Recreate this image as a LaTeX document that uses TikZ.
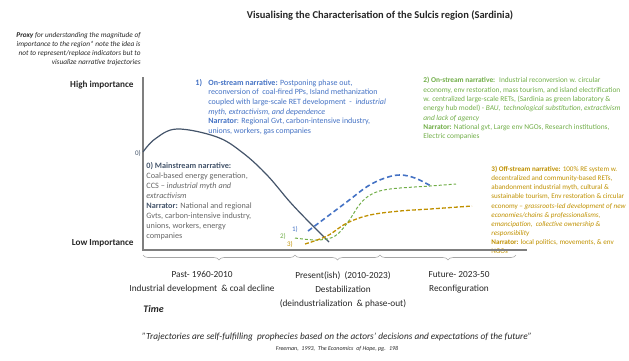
\documentclass[tikz,border=0pt]{standalone}
\usepackage{fontspec}
\setmainfont{Carlito}
\usepackage{tikz}
\usetikzlibrary{positioning,decorations.pathreplacing}
\definecolor{catSlate}{HTML}{44546A}
\definecolor{catBlue}{HTML}{4472C4}
\definecolor{catGreen}{HTML}{70AD47}
\definecolor{catGold}{HTML}{BF9000}
\definecolor{catGrey}{HTML}{7F7F7F}
\definecolor{catBody}{HTML}{666666}
\colorlet{colMainstream}{catSlate}
\colorlet{colStreamOne}{catBlue}
\colorlet{colStreamTwo}{catGreen}
\colorlet{colStreamThree}{catGold}
\colorlet{colAxis}{catGrey}
\colorlet{colLabel}{black!85}

\tikzset{
  narrative/.style={anchor=north west, inner sep=0pt, align=left, font=\fontsize{8.2}{10}\selectfont},
  period/.style={anchor=north, inner sep=0pt, align=center, font=\fontsize{9.3}{14}\selectfont, text=colLabel},
  tagtext/.style={inner sep=0pt, font=\fontsize{7}{8}\selectfont},
  axislabel/.style={anchor=east, inner sep=0pt, font=\fontsize{9.2}{11}\selectfont\bfseries, text=colLabel},
  bracegap/.style={decorate, decoration={brace, mirror, amplitude=5pt}, colAxis!70, line width=0.6pt}
}

\begin{document}
\begin{tikzpicture}[x=1pt, y=-1pt, thick]
        \useasboundingbox (0,0) rectangle (629,360);

        % Title and note
        \node[font=\fontsize{10.5}{12}\selectfont\bfseries, text=colLabel] (title) at (380,15) {Visualising the Characterisation of the Sulcis region (Sardinia)};
        \node[anchor=north east, inner sep=0pt, align=right, font=\fontsize{7.3}{9}\selectfont\itshape, text=colLabel] (proxy) at (141,32) {\textbf{Proxy} for understanding the magnitude of\\importance to the region* note the idea is\\not to represent/replace indicators but to\\visualize narrative trajectories};

        % Narratives
        \node[narrative, text=catBody] (txtZero) at (146,162) {\textcolor{colMainstream}{\textbf{0) Mainstream narrative:}}\\Coal-based energy generation,\\CCS -- \textit{industrial myth and}\\\textit{extractivism}\\\textcolor{colMainstream}{\textbf{Narrator:}} National and regional\\Gvts, carbon-intensive industry,\\unions, workers, energy\\companies};
        \node[narrative, text=colStreamOne] (tagOneTxt) at (195,79) {\textbf{1)}};
        \node[narrative, text=colStreamOne, font=\fontsize{8}{9.7}\selectfont] (txtOne) at (208,79) {\textbf{On-stream narrative:} Postponing phase out,\\reconversion of \ coal-fired PPs, Island methanization\\coupled with large-scale RET development \ - \ \textit{industrial}\\\textit{myth, extractivism, and dependence}\\\textbf{Narrator}: Regional Gvt, carbon-intensive industry,\\unions, workers, gas companies};
        \node[narrative, text=colStreamTwo, font=\fontsize{7.4}{9.3}\selectfont] (txtTwo) at (423,77) {\textbf{2) On-stream narrative:} \ Industrial reconversion w. circular\\economy, env restoration, mass tourism, and island electrification\\w. centralized large-scale RETs, (Sardinia as green laboratory \&\\energy hub model) - \textit{BAU, \ technological substitution, extractivism}\\\textit{and lack of agency}\\\textbf{Narrator:} National gvt, Large env NGOs, Research institutions,\\Electric companies};
        \node[narrative, text=colStreamThree, font=\fontsize{7.1}{9.1}\selectfont] (txtThree) at (491,166) {\textbf{3) Off-stream narrative:} 100\% RE system w.\\decentralized and community-based RETs,\\abandonment industrial myth, cultural \&\\sustainable tourism, Env restoration \& circular\\economy -- \textit{grassroots-led development of new}\\\textit{economies/chains \& professionalisms,}\\\textit{emancipation, \ collective ownership \&}\\\textit{responsibility}\\\textbf{Narrator:} local politics, movements, \& env\\NGOs};

        % Axes
        \coordinate (yTop) at (143,77);
        \coordinate (origin) at (143,250);
        \coordinate (xEnd) at (527,250);
        \draw[colAxis, line width=1.1pt] (yTop) -- (origin) -- (xEnd);
        \node[axislabel] (high) at (134,85) {High importance};
        \node[axislabel] (low) at (134,243) {Low Importance};

        % Trajectories
        \draw[colMainstream, line width=1.2pt] plot[smooth, tension=0.6] coordinates {(143,152) (155,139) (177,129) (217,137) (243,153) (267,175) (290,202) (310,223) (329,242)};
        \node[tagtext, text=colMainstream] (tagZero) at (138,153) {0)};
        \draw[colStreamOne, line width=1.6pt, dash pattern=on 5pt off 3pt] plot[smooth, tension=0.6] coordinates {(308,231) (328,216) (348,201) (368,186) (385,178) (400,175) (415,178) (431,186)};
        \node[tagtext, text=colStreamOne] (tagOne) at (295,229) {1)};
        \draw[colStreamTwo, line width=1pt, dash pattern=on 3pt off 2pt] plot[smooth, tension=0.6] coordinates {(295,238) (318,240) (335,236) (348,222) (360,204) (372,194) (390,189) (430,186) (456,184)};
        \node[tagtext, text=colStreamTwo] (tagTwo) at (283,236) {2)};
        \draw[colStreamThree, line width=1.3pt, dash pattern=on 4pt off 2pt] plot[smooth, tension=0.6] coordinates {(305,244) (327,236) (347,223) (370,215) (400,211) (430,209) (472,206)};
        \node[tagtext, text=colStreamThree] (tagThree) at (290,244) {3)};

        % Periods
        \coordinate (pastA) at (143,255);
        \coordinate (pastB) at (295,255);
        \coordinate (presB) at (380,255);
        \coordinate (futB) at (516,255);
        \draw[bracegap] (pastA) -- (pastB);
        \draw[bracegap] (pastB) -- (presB);
        \draw[bracegap] (presB) -- (futB);
        \node[period] (past) at (202,271) {Past- 1960-2010\\Industrial development \ \& coal decline};
        \node[period] (present) at (343,271) {Present(ish) \ (2010-2023)\\Destabilization\\(deindustrialization \ \& phase-out)};
        \node[period] (future) at (459,271) {Future- 2023-50\\Reconfiguration};
        \node[anchor=west, inner sep=0pt, font=\fontsize{10}{12}\selectfont\bfseries\itshape, text=colLabel] (time) at (143,309) {Time};

        % Quote
        \node[font=\fontsize{9.3}{11}\selectfont\itshape, text=colLabel] (quote) at (337,337) {"Trajectories are self-fulfilling \ prophecies based on the actors' decisions and expectations of the future"};
        \node[font=\fontsize{6}{7}\selectfont\itshape, text=colLabel] (source) at (337,349) {Freeman, \ 1993, \ The Economics \ of Hope, pg. \ 198};
\end{tikzpicture}
\end{document}
